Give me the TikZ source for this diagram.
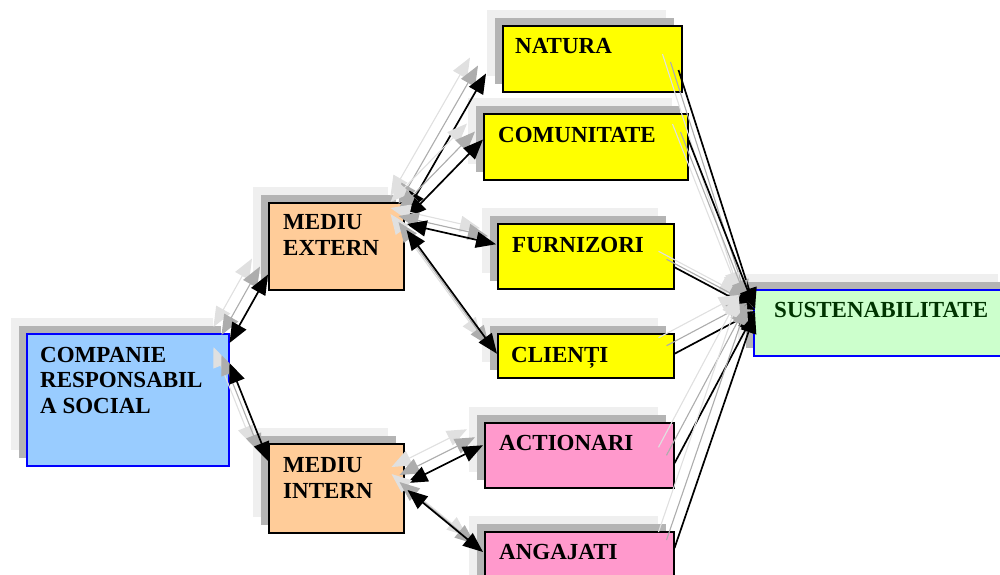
\documentclass[tikz,border=0pt]{standalone}
\usepackage{fontspec}
\setmainfont{Liberation Serif}
\usetikzlibrary{arrows.meta,shadows,calc}
\definecolor{cblue}{HTML}{99CCFF}
\definecolor{corange}{HTML}{FFCC99}
\definecolor{cyellow}{HTML}{FFFF00}
\definecolor{cpink}{HTML}{FF99CC}
\definecolor{cgreen}{HTML}{CCFFCC}
\definecolor{dgreen}{HTML}{003300}
\definecolor{shdark}{HTML}{B4B4B4}
\definecolor{shlight}{HTML}{EFEFEF}
\newcommand\linkset[3]{%
  \draw[ghostfar,#1,transform canvas={shift={(-16,-16)}}] #2 -- #3;
  \draw[ghostnear,#1,transform canvas={shift={(-8,-8)}}] #2 -- #3;
  \draw[conn,#1] #2 -- #3;}
\begin{document}
\begin{tikzpicture}[x=1pt,y=-1pt,
  box/.style={rectangle, anchor=north west, inner sep=0pt, line width=1.5pt, draw=black,
    general shadow={shadow xshift=-16pt, shadow yshift=16pt, fill=shlight, draw=none},
    general shadow={shadow xshift=-8pt, shadow yshift=8pt, fill=shdark, draw=none}},
  lbl/.style={anchor=base west, inner sep=0pt, align=left,
    font=\fontsize{23}{25.5}\selectfont\bfseries},
  conn/.style={line width=1.7pt, draw=black, fill=black},
  ghostnear/.style={line width=1.1pt, draw=black!32, fill=black!32},
  ghostfar/.style={line width=1.1pt, draw=black!12, fill=black!12},
  both/.style={{Triangle[length=20pt,width=16pt]}-{Triangle[length=20pt,width=16pt]}},
  one/.style={-{Triangle[length=20pt,width=16pt]}}]
\useasboundingbox (0,0) rectangle (1000,574);
\clip (0,0) rectangle (1000,574);
% boxes
\node[box, fill=cblue, draw=blue, minimum width=202pt, minimum height=132pt] (comp) at (26,333) {};
\node[box, fill=corange, minimum width=135pt, minimum height=87pt] (mext) at (268,202) {};
\node[box, fill=corange, minimum width=135pt, minimum height=89pt] (mint) at (268,443) {};
\node[box, fill=cyellow, minimum width=179pt, minimum height=66pt] (natura) at (502,25) {};
\node[box, fill=cyellow, minimum width=204pt, minimum height=66pt] (comun) at (483,113) {};
\node[box, fill=cyellow, minimum width=176pt, minimum height=65pt] (furn) at (497,223) {};
\node[box, fill=cyellow, minimum width=176pt, minimum height=44pt] (clienti) at (497,333) {};
\node[box, fill=cpink, minimum width=189pt, minimum height=65pt] (act) at (484,422) {};
\node[box, fill=cpink, minimum width=189pt, minimum height=70pt] (ang) at (484,531) {};
\node[box, fill=cgreen, draw=blue, minimum width=260pt, minimum height=66pt] (sust) at (753,289) {};
% labels (base = last line)
\node[lbl] (tcomp) at (40,413) {COMPANIE\\RESPONSABIL\\A SOCIAL};
\node[lbl] (tmext) at (283,255) {MEDIU\\EXTERN};
\node[lbl] (tmint) at (283,498) {MEDIU\\INTERN};
\node[lbl] (tnat) at (515,53) {NATURA};
\node[lbl] (tcom) at (498,142) {COMUNITATE};
\node[lbl] (tfur) at (512,252) {FURNIZORI};
\node[lbl] (tcli) at (511,362) {CLIENȚI};
\node[lbl] (tact) at (499,450) {ACTIONARI};
\node[lbl] (tang) at (499,559) {ANGAJATI};
\node[lbl, text=dgreen] (tsus) at (774,317) {SUSTENABILITATE};
% connectors
\linkset{both}{($(comp.north east)+(0,10)$)}{($(mext.south west)+(0,-16)$)}
\linkset{both}{($(comp.north east)+(0,30)$)}{($(mint.north west)+(1,19)$)}
\linkset{both}{($(mext.north east)+(2,10)$)}{($(natura.south west)+(-16,-19)$)}
\linkset{both}{($(mext.north east)+(2,16)$)}{($(comun.south west)+(0,-41)$)}
\linkset{both}{($(mext.north east)+(2,22)$)}{($(furn.west)+(-1,-12)$)}
\linkset{both}{($(mext.north east)+(2,28)$)}{($(clienti.west)+(0,-2)$)}
\linkset{both}{($(mint.north east)+(3,40)$)}{($(act.west)+(-1,-10)$)}
\linkset{both}{($(mint.north east)+(3,47)$)}{($(ang.north west)+(-1,21)$)}
\linkset{one}{($(natura.north east)+(-4,45)$)}{($(sust.north west)+(2,19)$)}
\linkset{one}{($(comun.north east)+(0,27)$)}{($(sust.north west)+(2,20)$)}
\linkset{one}{($(furn.east)+(0,11)$)}{($(sust.north west)+(2,21)$)}
\linkset{one}{($(clienti.east)+(0,-2)$)}{($(sust.north west)+(2,22)$)}
\linkset{one}{($(act.east)+(0,8)$)}{($(sust.north west)+(2,23)$)}
\linkset{one}{($(ang.north east)+(0,17)$)}{($(sust.north west)+(2,24)$)}
\end{tikzpicture}
\end{document}
